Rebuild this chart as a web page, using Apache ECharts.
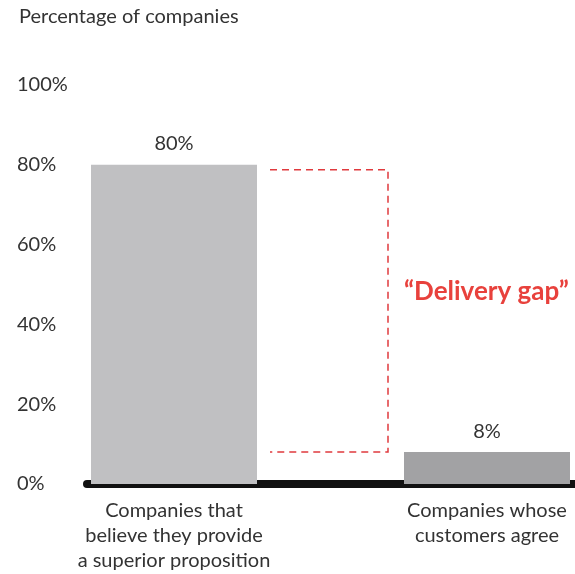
<!DOCTYPE html>
<html>
<head>
<meta charset="utf-8">
<script src="https://cdn.jsdelivr.net/npm/echarts@6/dist/echarts.min.js"></script>
<style>
  html, body { margin: 0; padding: 0; background: #fff; }
  #chart { width: 575px; height: 574px; }
</style>
</head>
<body>
<div id="chart"></div>
<script>
const titleText = "Percentage of companies";
const categories = [
  "Companies that\nbelieve they provide\na superior proposition",
  "Companies whose\ncustomers agree"
];
const values = [80, 8];
const barColors = ["#c0c0c2", "#a2a2a4"];
const gapLabel = "\u201cDelivery gap\u201d";
const yMin = 0, yMax = 100, yStep = 20;

const font = "Lato, 'Open Sans', sans-serif";
const textColor = "#333";

const chart = echarts.init(document.getElementById("chart"));

const option = {
  animation: false,
  textStyle: { fontFamily: font },
  title: {
    text: titleText,
    left: 14,
    top: 2,
    textStyle: { fontSize: 20, fontWeight: "normal", color: textColor, fontFamily: font }
  },
  grid: [
    // axis grid: y labels and the thick baseline
    { left: 87, right: 0, top: 85, bottom: 90, outerBoundsMode: "none" },
    // bar grid: runs past the right edge so the bars land where the picture has them
    { left: 17.5, right: -68.5, top: 85, bottom: 90, outerBoundsMode: "none" }
  ],
  xAxis: [
    {
      gridIndex: 0, type: "category", data: ["", ""],
      axisLine: { show: true, lineStyle: { color: "#111", width: 8 } },
      axisTick: { show: false }, axisLabel: { show: false }, splitLine: { show: false }
    },
    {
      gridIndex: 1, type: "category", data: categories,
      axisLine: { show: false }, axisTick: { show: false },
      axisLabel: {
        margin: 14, fontSize: 20, lineHeight: 25, color: textColor, fontFamily: font,
        interval: 0
      }
    }
  ],
  yAxis: [
    {
      gridIndex: 0, type: "value", min: yMin, max: yMax, interval: yStep,
      axisLine: { show: false }, axisTick: { show: false }, splitLine: { show: false },
      axisLabel: {
        formatter: "{value}%", align: "left", margin: 70,
        fontSize: 20, color: textColor, fontFamily: font
      }
    },
    {
      gridIndex: 1, type: "value", min: yMin, max: yMax, interval: yStep, show: false
    }
  ],
  series: [
    {
      type: "bar",
      xAxisIndex: 1, yAxisIndex: 1,
      barWidth: 166,
      data: values.map((v, i) => ({ value: v, itemStyle: { color: barColors[i] } })),
      label: {
        show: true, position: "top", distance: 11, formatter: "{c}%",
        fontSize: 20, color: textColor, fontFamily: font
      }
    }
  ]
};

chart.setOption(option);

// dashed bracket showing the gap between the two values
const yTop = chart.convertToPixel({ yAxisIndex: 0 }, values[0]) + 5;
const yBot = chart.convertToPixel({ yAxisIndex: 0 }, values[1]);
const xL = 270, xR = 388;
const dash = { stroke: "#e03a3e", lineWidth: 1.5, lineDash: [7, 5] };

chart.setOption({
  graphic: [
    { type: "polyline", shape: { points: [[xL, yTop], [xR, yTop], [xR, yBot], [xL, yBot]] }, style: Object.assign({ fill: null }, dash) },
    {
      type: "text", left: 404, top: (yTop + yBot) / 2 - 32,
      style: { text: gapLabel, fill: "#e8413c", font: "bold 26px " + font }
    }
  ]
});
</script>
</body>
</html>
